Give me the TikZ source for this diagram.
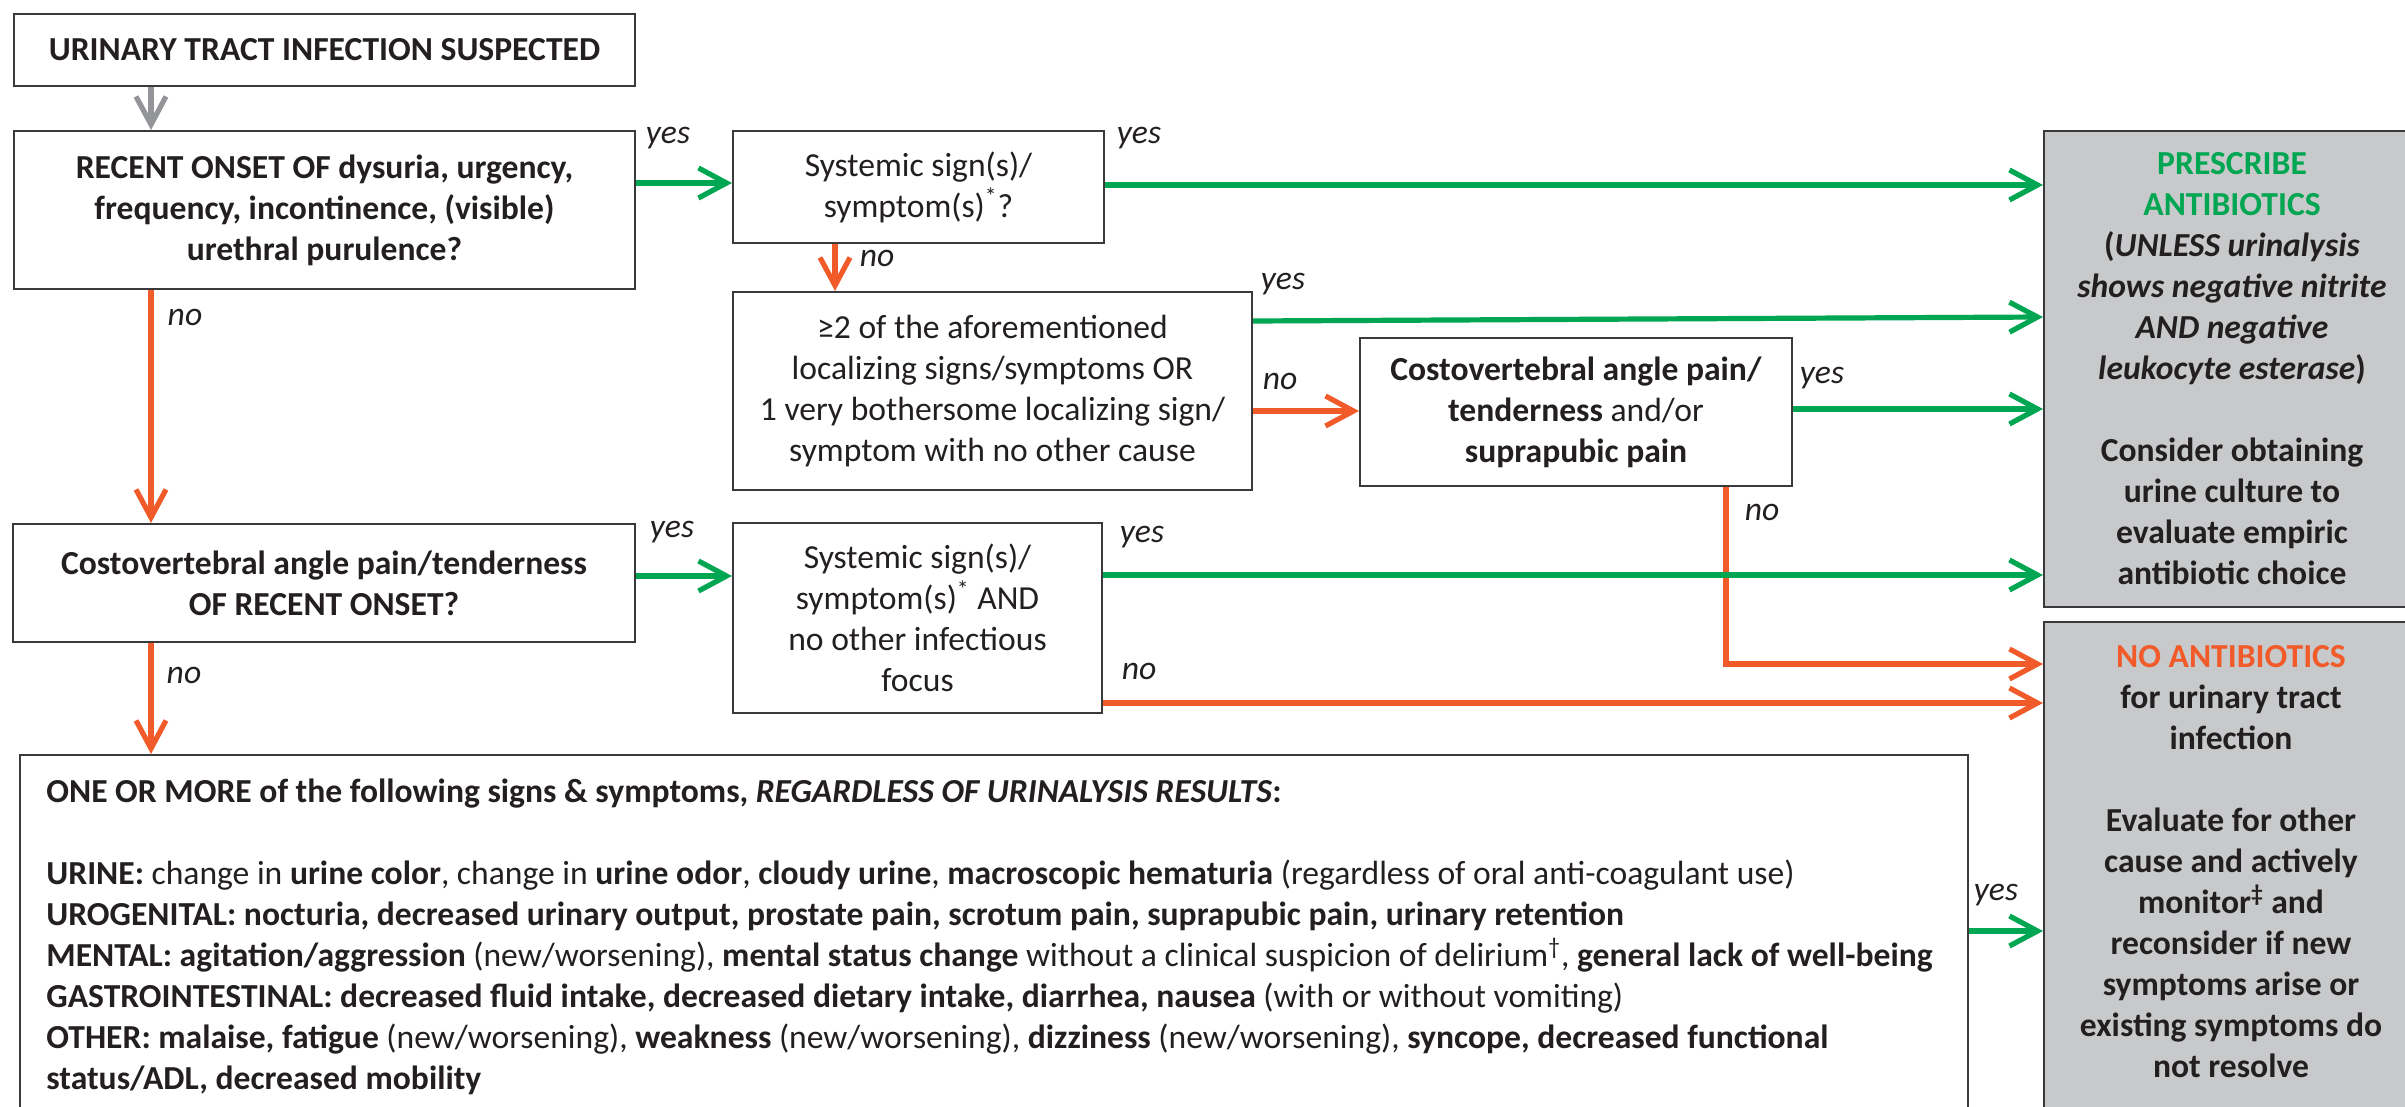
\documentclass[tikz,border=0pt]{standalone}
\usepackage{fontspec}
\setmainfont{Carlito}
\usetikzlibrary{arrows.meta}
\definecolor{ugreen}{HTML}{00A651}
\definecolor{ured}{HTML}{F15A29}
\definecolor{ugray}{HTML}{939598}
\definecolor{ufill}{HTML}{C8C9CB}
\definecolor{uline}{HTML}{3A3A3C}
\definecolor{utext}{HTML}{231F20}
\begin{document}
\begin{tikzpicture}[x=0.5pt,y=-0.5pt,
  font=\fontsize{16.8}{20.5}\selectfont, text=utext,
  box/.style={draw=uline, line width=1pt, fill=white, align=center, inner sep=0pt},
  gbox/.style={draw=uline, line width=1pt, fill=ufill, align=center, inner sep=0pt},
  arr/.style={line width=2.6pt, -{Straight Barb[length=14pt,width=15pt,line width=2.6pt]}},
  yesarr/.style={arr, draw=ugreen},
  noarr/.style={arr, draw=ured},
  startarr/.style={arr, draw=ugray},
  lbl/.style={font=\fontsize{16.8}{20.5}\selectfont\itshape, inner sep=0pt, text=utext}]
\useasboundingbox (0,0) rectangle (2405,1107);

% boxes
\node[box, minimum width=310.5pt, minimum height=36pt] (b1) at (324.5,50)
  {\textbf{URINARY TRACT INFECTION SUSPECTED}};
\node[box, minimum width=310.5pt, minimum height=79pt] (b2) at (324.5,210)
  {\textbf{RECENT ONSET OF dysuria, urgency,}\\\textbf{frequency, incontinence, (visible)}\\\textbf{urethral purulence?}};
\node[box, minimum width=185.5pt, minimum height=56pt] (b3) at (918.5,187)
  {Systemic sign(s)/\\symptom(s)\textsuperscript{*}?};
\node[box, minimum width=259.5pt, minimum height=99pt] (b4) at (992.5,391)
  {≥2 of the aforementioned\\localizing signs/symptoms OR\\1 very bothersome localizing sign/\\symptom with no other cause};
\node[box, minimum width=216pt, minimum height=74pt] (b5) at (1576,412)
  {\textbf{Costovertebral angle pain/}\\\textbf{tenderness} and/or\\\textbf{suprapubic pain}};
\node[box, minimum width=311pt, minimum height=59pt] (b6) at (324,583)
  {\textbf{Costovertebral angle pain/tenderness}\\\textbf{OF RECENT ONSET?}};
\node[box, minimum width=184.5pt, minimum height=95pt] (b7) at (917.5,618)
  {Systemic sign(s)/\\symptom(s)\textsuperscript{*} AND\\no other infectious\\focus};
\node[box, minimum width=974pt, minimum height=187.5pt] (b8) at (994,942.5) {};
\node[anchor=north west, align=left, inner sep=0pt] (b8t) at (46,779)
  {\textbf{ONE OR MORE of the following signs \& symptoms, \textit{REGARDLESS OF URINALYSIS RESULTS}:}\\[20.5pt]
   \textbf{URINE:} change in \textbf{urine color}, change in \textbf{urine odor}, \textbf{cloudy urine}, \textbf{macroscopic hematuria} (regardless of oral anti-coagulant use)\\
   \textbf{UROGENITAL: nocturia, decreased urinary output, prostate pain, scrotum pain, suprapubic pain, urinary retention}\\
   \textbf{MENTAL: agitation/aggression} (new/worsening), \textbf{mental status change} without a clinical suspicion of delirium\textsuperscript{†}, \textbf{general lack of well-being}\\
   \textbf{GASTROINTESTINAL: decreased fluid intake, decreased dietary intake, diarrhea, nausea} (with or without vomiting)\\
   \textbf{OTHER: malaise, fatigue} (new/worsening), \textbf{weakness} (new/worsening), \textbf{dizziness} (new/worsening), \textbf{syncope, decreased functional}\\
   \textbf{status/ADL, decreased mobility}};

\node[gbox, minimum width=188pt, minimum height=238pt] (gA) at (2232,369)
  {\textbf{\textcolor{ugreen}{PRESCRIBE}}\\\textbf{\textcolor{ugreen}{ANTIBIOTICS}}\\
   \textbf{(\textit{UNLESS urinalysis}}\\\textbf{\textit{shows negative nitrite}}\\\textbf{\textit{AND negative}}\\\textbf{\textit{leukocyte esterase})}\\[20.5pt]
   \textbf{Consider obtaining}\\\textbf{urine culture to}\\\textbf{evaluate empiric}\\\textbf{antibiotic choice}};
\node[gbox, minimum width=188pt, minimum height=254pt] (gB) at (2232,876) {};
\node[align=center, inner sep=0pt] (gBt) at (2231,862)
  {\textbf{\textcolor{ured}{NO ANTIBIOTICS}}\\\textbf{for urinary tract}\\\textbf{infection}\\[20.5pt]
   \textbf{Evaluate for other}\\\textbf{cause and actively}\\\textbf{monitor\textsuperscript{‡} and}\\\textbf{reconsider if new}\\\textbf{symptoms arise or}\\\textbf{existing symptoms do}\\\textbf{not resolve}};

% helper levels
\coordinate (x151) at (151,0);
\coordinate (x835) at (835,0);
\coordinate (x1726) at (1726,0);
\coordinate (y183) at (0,183);
\coordinate (y185) at (0,185);
\coordinate (y321) at (0,321);
\coordinate (y317) at (0,317);
\coordinate (y411) at (0,411);
\coordinate (y409) at (0,409);
\coordinate (y664) at (0,664);
\coordinate (y576) at (0,576);
\coordinate (y575) at (0,575);
\coordinate (y703) at (0,703);
\coordinate (y931) at (0,931);

% connectors
\draw[startarr] (b1.south -| x151) -- (b2.north -| x151);
\draw[yesarr] (b2.east |- y183) -- (b3.west |- y183);
\draw[yesarr] (b3.east |- y185) -- (gA.west |- y185);
\draw[noarr] (b3.south -| x835) -- (b4.north -| x835);
\draw[noarr] (b2.south -| x151) -- (b6.north -| x151);
\draw[yesarr] (b4.east |- y321) -- (gA.west |- y317);
\draw[noarr] (b4.east |- y411) -- (b5.west |- y411);
\draw[yesarr] (b5.east |- y409) -- (gA.west |- y409);
\draw[noarr] (b5.south -| x1726) |- (gB.west |- y664);
\draw[yesarr] (b6.east |- y576) -- (b7.west |- y576);
\draw[yesarr] (b7.east |- y575) -- (gA.west |- y575);
\draw[noarr] (b7.east |- y703) -- (gB.west |- y703);
\draw[noarr] (b6.south -| x151) -- (b8.north -| x151);
\draw[yesarr] (b8.east |- y931) -- (gB.west |- y931);

% labels
\node[lbl] (l1) at (668,138) {yes};
\node[lbl] (l2) at (1139,138) {yes};
\node[lbl] (l3) at (877,258) {no};
\node[lbl] (l4) at (185,317) {no};
\node[lbl] (l5) at (1283,284) {yes};
\node[lbl] (l6) at (1280,381) {no};
\node[lbl] (l7) at (1822,378) {yes};
\node[lbl] (l8) at (1762,512) {no};
\node[lbl] (l9) at (672,532) {yes};
\node[lbl] (l10) at (1142,537) {yes};
\node[lbl] (l11) at (1139,671) {no};
\node[lbl] (l12) at (184,675) {no};
\node[lbl] (l13) at (1996,895) {yes};
\end{tikzpicture}
\end{document}
